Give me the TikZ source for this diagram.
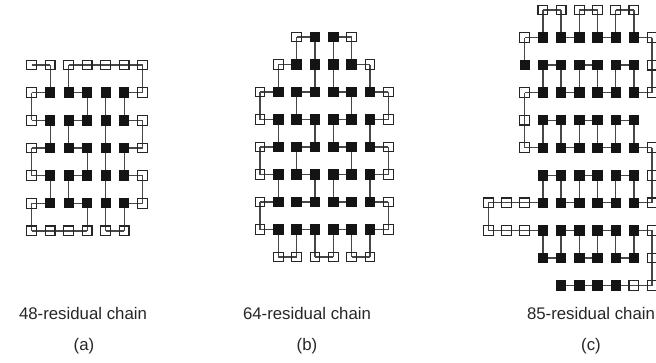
\documentclass[tikz,border=0pt]{standalone}
\usepackage{fontspec}
\setmainfont{Liberation Sans}
\usetikzlibrary{backgrounds}

\tikzset{
  res/.style={rectangle, inner sep=0pt, outer sep=0pt},
  hyd/.style={res, minimum size=10.4pt, fill=black!92},
  pol/.style={res, minimum size=9.7pt, draw=black!85, line width=1.15pt},
  bond/.style={draw=black!72, line width=1.25pt},
  caption/.style={font=\fontsize{16.8}{19}\selectfont, text=black!85, inner sep=0pt}
}

% #1 name prefix, #2 x of column 0, #3 y of row 0, #4 column pitch,
% #5 row pitch, #6 chain length, #7 list of col/row/type in chain order
\newcommand\latticechain[7]{%
  \foreach \c/\r/\t [count=\i] in {#7} {
    \node[\t] (#1\i) at ({#2+(\c)*#4},{#3+(\r)*#5}) {};
  }
  \begin{pgfonlayer}{background}
    \foreach \i in {2,...,#6} {
      \pgfmathtruncatemacro\k{\i-1}
      \draw[bond] (#1\k.center) -- (#1\i.center);
    }
  \end{pgfonlayer}
}

\begin{document}
\begin{tikzpicture}[x=1pt, y=-1pt]
  \useasboundingbox (0,0) rectangle (656,362);

  % 48-residue fold
  \latticechain{a}{31.7}{65}{18.5}{27.65}{48}{0/0/pol,1/0/pol,1/1/hyd,0/1/pol,0/2/pol,1/2/hyd,1/3/hyd,0/3/pol,0/4/pol,1/4/hyd,1/5/hyd,0/5/pol,0/6/pol,1/6/pol,2/6/pol,3/6/pol,3/5/hyd,2/5/hyd,2/4/hyd,3/4/hyd,3/3/hyd,2/3/hyd,2/2/hyd,3/2/hyd,3/1/hyd,2/1/hyd,2/0/pol,3/0/pol,4/0/pol,5/0/pol,6/0/pol,6/1/pol,5/1/hyd,5/2/hyd,6/2/pol,6/3/pol,5/3/hyd,5/4/hyd,6/4/pol,6/5/pol,5/5/hyd,5/6/pol,4/6/pol,4/5/hyd,4/4/hyd,4/3/hyd,4/2/hyd,4/1/hyd}

  % 64-residue fold
  \latticechain{b}{260}{37}{18.33}{27.5}{64}{2/6/hyd,3/6/hyd,3/5/hyd,2/5/hyd,2/4/hyd,3/4/hyd,3/3/hyd,2/3/hyd,2/2/hyd,3/2/hyd,3/1/hyd,3/0/hyd,2/0/pol,2/1/hyd,1/1/pol,1/2/hyd,0/2/pol,0/3/pol,1/3/hyd,1/4/hyd,0/4/pol,0/5/pol,1/5/hyd,1/6/hyd,0/6/pol,0/7/pol,1/7/hyd,1/8/pol,2/8/pol,2/7/hyd,3/7/hyd,3/8/pol,4/8/pol,4/7/hyd,5/7/hyd,5/8/pol,6/8/pol,6/7/hyd,7/7/pol,7/6/pol,6/6/hyd,6/5/hyd,7/5/pol,7/4/pol,6/4/hyd,6/3/hyd,7/3/pol,7/2/pol,6/2/hyd,6/1/pol,5/1/hyd,5/0/pol,4/0/hyd,4/1/hyd,4/2/hyd,5/2/hyd,5/3/hyd,4/3/hyd,4/4/hyd,5/4/hyd,5/5/hyd,4/5/hyd,4/6/hyd,5/6/hyd}

  % 85-residue fold
  \latticechain{c}{524.7}{10}{18.2}{27.55}{85}{0/2/hyd,0/1/pol,1/1/hyd,1/0/pol,2/0/pol,2/1/hyd,3/1/hyd,3/0/pol,4/0/pol,4/1/hyd,5/1/hyd,5/0/pol,6/0/pol,6/1/hyd,7/1/pol,7/2/pol,7/3/pol,6/3/hyd,6/2/hyd,5/2/hyd,5/3/hyd,4/3/hyd,4/2/hyd,3/2/hyd,3/3/hyd,2/3/hyd,2/2/hyd,1/2/hyd,1/3/hyd,0/3/pol,0/4/pol,0/5/pol,1/5/hyd,1/4/hyd,2/4/hyd,2/5/hyd,3/5/hyd,3/4/hyd,4/4/hyd,4/5/hyd,5/5/hyd,5/4/hyd,6/4/hyd,6/5/hyd,7/5/pol,7/6/pol,7/7/pol,6/7/hyd,6/6/hyd,5/6/hyd,5/7/hyd,4/7/hyd,4/6/hyd,3/6/hyd,3/7/hyd,2/7/hyd,2/6/hyd,1/6/hyd,1/7/hyd,0/7/pol,-1/7/pol,-2/7/pol,-2/8/pol,-1/8/pol,0/8/pol,1/8/hyd,1/9/hyd,2/9/hyd,2/8/hyd,3/8/hyd,3/9/hyd,4/9/hyd,4/8/hyd,5/8/hyd,5/9/hyd,6/9/hyd,6/8/hyd,7/8/pol,7/9/pol,7/10/pol,6/10/pol,5/10/hyd,4/10/hyd,3/10/hyd,2/10/hyd}

  % captions
  \node[caption] (capA) at (83,313) {48-residual chain};
  \node[caption] (tagA) at (84,346) {(a)};
  \node[caption] (capB) at (307,313) {64-residual chain};
  \node[caption] (tagB) at (307,346) {(b)};
  \node[caption] (capC) at (591,313) {85-residual chain};
  \node[caption] (tagC) at (591,346) {(c)};
\end{tikzpicture}
\end{document}
